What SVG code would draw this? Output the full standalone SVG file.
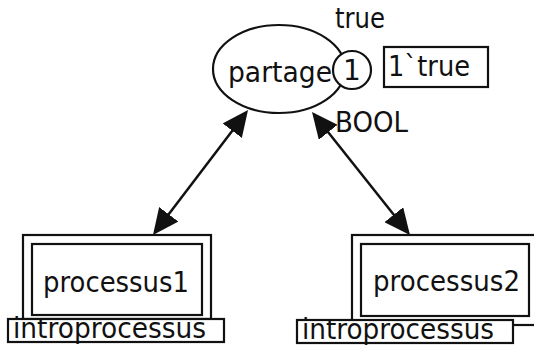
<svg xmlns="http://www.w3.org/2000/svg" width="534" height="348" viewBox="0 0 534 348">
  <style>
    text { font-family: "DejaVu Sans", Verdana, sans-serif; font-size: 28px; fill: #111; }
    .shape { fill: #fff; stroke: #111; stroke-width: 2.2; }
    .arc { fill: none; stroke: #111; stroke-width: 2.5; marker-start: url(#head); marker-end: url(#head); }
  </style>
  <defs>
    <marker id="head" markerUnits="userSpaceOnUse" markerWidth="26" markerHeight="24" refX="23" refY="12" orient="auto-start-reverse">
      <path d="M0,0 L26,12 L0,24 z" fill="#111"/>
    </marker>
  </defs>
  <rect width="534" height="348" fill="#fff"/>

  <!-- arcs between the place and the transitions -->
  <g id="connectors">
    <path class="arc" d="M154.8,232.6 L246.2,112.4"/>
    <path class="arc" d="M408.1,232.7 L313.9,114.3"/>
  </g>

  <!-- place "partage" with its colour set, initial marking and token count -->
  <g id="partage">
    <ellipse class="shape" cx="279" cy="69" rx="66" ry="44"/>
    <text x="228" y="82" textLength="104" lengthAdjust="spacingAndGlyphs">partage</text>
    <circle class="shape" cx="352" cy="70" r="19"/>
    <text x="352" y="80" text-anchor="middle">1</text>
    <text x="335" y="28" textLength="50" lengthAdjust="spacingAndGlyphs">true</text>
    <rect class="shape" x="384" y="47" width="104" height="40"/>
    <text x="388" y="76" textLength="82" lengthAdjust="spacingAndGlyphs">1`true</text>
    <text x="335" y="132" textLength="73" lengthAdjust="spacingAndGlyphs">BOOL</text>
  </g>

  <!-- substitution transition processus1 -->
  <g id="processus1">
    <rect class="shape" x="23" y="235" width="188" height="84"/>
    <rect class="shape" x="32" y="244" width="170" height="71"/>
    <text x="43" y="292" textLength="146" lengthAdjust="spacingAndGlyphs">processus1</text>
    <rect class="shape" x="8" y="319" width="216" height="23"/>
    <text x="13" y="338" textLength="193" lengthAdjust="spacingAndGlyphs">introprocessus</text>
  </g>

  <!-- substitution transition processus2 -->
  <g id="processus2">
    <rect class="shape" x="352" y="235" width="190" height="90"/>
    <rect class="shape" x="361" y="244" width="168" height="72"/>
    <text x="373" y="291" textLength="147" lengthAdjust="spacingAndGlyphs">processus2</text>
    <rect class="shape" x="297" y="320" width="216" height="23"/>
    <text x="302" y="339" textLength="192" lengthAdjust="spacingAndGlyphs">introprocessus</text>
  </g>
</svg>
